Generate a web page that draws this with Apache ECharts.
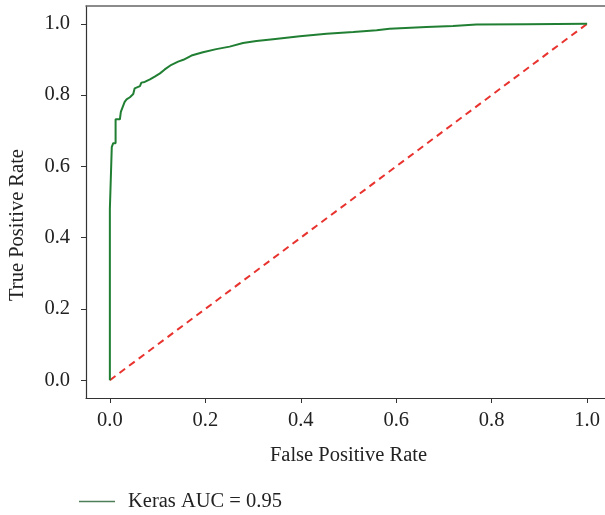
<!DOCTYPE html>
<html>
<head>
<meta charset="utf-8">
<title>ROC</title>
<script src="https://cdn.jsdelivr.net/npm/echarts@6/dist/echarts.min.js"></script>
<style>
    html, body { margin: 0; padding: 0; background: #fff; }
    #roc_chart { width: 605px; height: 515px; }
</style>
</head>
<body>
<div id="roc_chart"></div>
<script>
// ROC curve points
var fpr = [0, 0, 0.004, 0.004, 0.007, 0.007, 0.012, 0.012, 0.021, 0.023, 0.031, 0.035, 0.042, 0.049,
    0.052, 0.063, 0.066, 0.073, 0.084, 0.094, 0.105, 0.115, 0.129, 0.143, 0.154, 0.171, 0.195, 0.223,
    0.251, 0.279, 0.307, 0.342, 0.398, 0.454, 0.510, 0.559, 0.586, 0.663, 0.719, 0.768, 0.873, 1.0];
var tpr = [0, 0.48, 0.48, 0.654, 0.654, 0.665, 0.665, 0.732, 0.732, 0.753, 0.781, 0.788, 0.794, 0.803,
    0.819, 0.825, 0.835, 0.837, 0.844, 0.852, 0.861, 0.872, 0.885, 0.894, 0.899, 0.911, 0.920, 0.929,
    0.936, 0.946, 0.952, 0.957, 0.965, 0.972, 0.977, 0.982, 0.986, 0.991, 0.994, 0.998, 0.999, 1.0];

// chance diagonal
var diag_x = [0, 1];
var diag_y = [0, 1];

var tick_values = [0, 0.2, 0.4, 0.6, 0.8, 1.0];
var legend_name = 'Keras AUC = 0.95';

var font = '"Liberation Serif", "DejaVu Serif", serif';
var font_size = 20.5;

function pairs(xs, ys) {
    var out = [];
    for (var i = 0; i < xs.length; i++) {
        out.push([xs[i], ys[i]]);
    }
    return out;
}

var my_chart = echarts.init(document.getElementById('roc_chart'), null, { renderer: 'canvas' });

var option = {
    animation: false,
    backgroundColor: '#fff',
    grid: {
        left: 86,
        top: 6,
        right: -6,
        bottom: 117,
        outerBoundsMode: 'none',
        containLabel: false,
        show: false
    },
    legend: {
        data: [legend_name],
        left: 79,
        top: 491,
        padding: 0,
        icon: 'rect',
        itemWidth: 36,
        itemHeight: 1.5,
        itemGap: 10,
        itemStyle: { color: '#4f7f58' },
        textStyle: { fontFamily: font, fontSize: font_size, color: '#222', padding: [0, 0, 0, 8] }
    },
    xAxis: [{
        type: 'value',
        min: -0.05,
        max: 1.05,
        name: 'False Positive Rate',
        nameLocation: 'middle',
        nameGap: 47,
        nameTextStyle: { fontFamily: font, fontSize: font_size, color: '#222' },
        axisLine: { show: true, onZero: false, lineStyle: { color: '#333', width: 1.2 } },
        axisTick: { show: true, length: 5, customValues: tick_values, lineStyle: { color: '#333' } },
        axisLabel: {
            customValues: tick_values,
            margin: 12,
            fontFamily: font,
            fontSize: font_size,
            color: '#222',
            formatter: function (v) { return v.toFixed(1); }
        },
        splitLine: { show: false }
    }, {
        // top spine only
        type: 'value',
        position: 'top',
        min: -0.05,
        max: 1.05,
        axisLine: { show: true, onZero: false, lineStyle: { color: '#666', width: 1.5 } },
        axisTick: { show: false },
        axisLabel: { show: false },
        splitLine: { show: false }
    }],
    yAxis: {
        type: 'value',
        min: -0.05,
        max: 1.05,
        axisLine: { show: true, onZero: false, lineStyle: { color: '#333', width: 1.2 } },
        axisTick: { show: true, length: 5, customValues: tick_values, lineStyle: { color: '#333' } },
        axisLabel: {
            customValues: tick_values,
            margin: 16,
            fontFamily: font,
            fontSize: font_size,
            color: '#222',
            formatter: function (v) { return v.toFixed(1); }
        },
        splitLine: { show: false }
    },
    graphic: [{
        type: 'text',
        x: 18,
        y: 225,
        rotation: Math.PI / 2,
        style: {
            text: 'True Positive Rate',
            fontFamily: font,
            fontSize: font_size,
            fill: '#222',
            align: 'center',
            verticalAlign: 'middle'
        }
    }],
    series: [{
        name: legend_name,
        type: 'line',
        data: pairs(fpr, tpr),
        showSymbol: false,
        symbol: 'none',
        lineStyle: { color: '#217f33', width: 2 },
        itemStyle: { color: '#217f33' },
        z: 3
    }, {
        name: 'chance',
        type: 'line',
        data: pairs(diag_x, diag_y),
        showSymbol: false,
        symbol: 'none',
        lineStyle: { color: '#e8332f', width: 2, type: [7, 5] },
        z: 2
    }]
};

my_chart.setOption(option);
</script>
</body>
</html>
